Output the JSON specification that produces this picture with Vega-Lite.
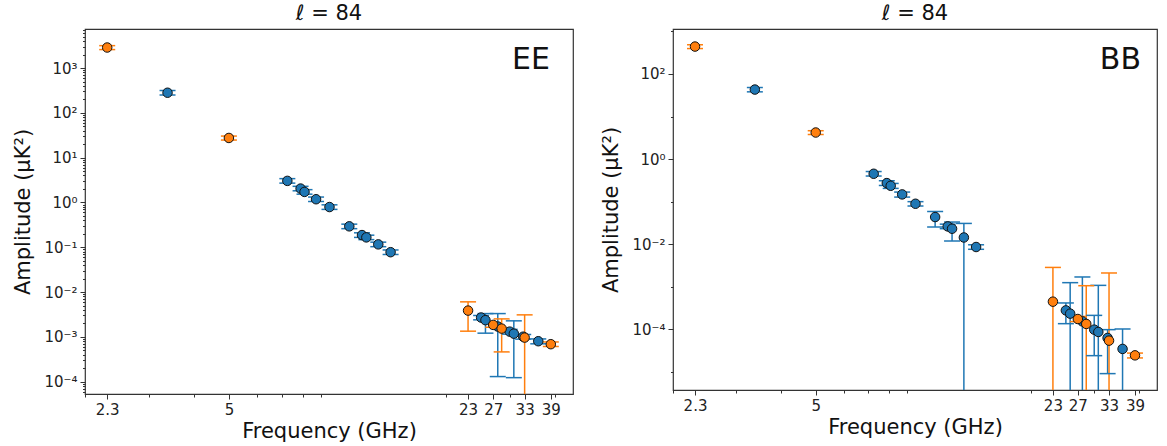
{
  "$schema": "https://vega.github.io/schema/vega-lite/v6.json",
  "background": "white",
  "padding": {"left": 12, "top": 2, "right": 7, "bottom": 4},
  "spacing": 100,
  "bounds": "flush",
  "datasets": {
    "pts": [
      {"panel": "EE", "series": "blue", "freq": 3.38, "amp": 281, "lo": 250, "hi": 315},
      {"panel": "EE", "series": "blue", "freq": 7.26, "amp": 3.03, "lo": 2.7, "hi": 3.4},
      {"panel": "EE", "series": "blue", "freq": 7.9, "amp": 2.04, "lo": 1.82, "hi": 2.29},
      {"panel": "EE", "series": "blue", "freq": 8.1, "amp": 1.72, "lo": 1.53, "hi": 1.93},
      {"panel": "EE", "series": "blue", "freq": 8.72, "amp": 1.18, "lo": 1.05, "hi": 1.32},
      {"panel": "EE", "series": "blue", "freq": 9.5, "amp": 0.79, "lo": 0.7, "hi": 0.885},
      {"panel": "EE", "series": "blue", "freq": 10.78, "amp": 0.293, "lo": 0.26, "hi": 0.328},
      {"panel": "EE", "series": "blue", "freq": 11.69, "amp": 0.187, "lo": 0.166, "hi": 0.21},
      {"panel": "EE", "series": "blue", "freq": 12.02, "amp": 0.166, "lo": 0.148, "hi": 0.186},
      {"panel": "EE", "series": "blue", "freq": 12.97, "amp": 0.116, "lo": 0.103, "hi": 0.13},
      {"panel": "EE", "series": "blue", "freq": 14.03, "amp": 0.0776, "lo": 0.069, "hi": 0.087},
      {"panel": "EE", "series": "blue", "freq": 25.0, "amp": 0.0027, "lo": 0.0024, "hi": 0.003},
      {"panel": "EE", "series": "blue", "freq": 25.7, "amp": 0.00236, "lo": 0.00121, "hi": 0.00331},
      {"panel": "EE", "series": "blue", "freq": 27.8, "amp": 0.0017, "lo": 0.00013, "hi": 0.00331},
      {"panel": "EE", "series": "blue", "freq": 30.0, "amp": 0.00131, "lo": 0.00115, "hi": 0.00147},
      {"panel": "EE", "series": "blue", "freq": 30.8, "amp": 0.00118, "lo": 0.000123, "hi": 0.00228},
      {"panel": "EE", "series": "blue", "freq": 32.7, "amp": 0.00101, "lo": 0.00089, "hi": 0.00113},
      {"panel": "EE", "series": "blue", "freq": 36.0, "amp": 0.0008, "lo": 0.0007, "hi": 0.0009},
      {"panel": "EE", "series": "orange", "freq": 2.3, "amp": 2870, "lo": 2580, "hi": 3160},
      {"panel": "EE", "series": "orange", "freq": 5.0, "amp": 27.5, "lo": 24.7, "hi": 30.3},
      {"panel": "EE", "series": "orange", "freq": 23.0, "amp": 0.00386, "lo": 0.00134, "hi": 0.00605},
      {"panel": "EE", "series": "orange", "freq": 27.0, "amp": 0.00185, "lo": 0.00164, "hi": 0.00207},
      {"panel": "EE", "series": "orange", "freq": 28.5, "amp": 0.00153, "lo": 0.000462, "hi": 0.00252},
      {"panel": "EE", "series": "orange", "freq": 33.0, "amp": 0.000964, "lo": 1e-9, "hi": 0.0031},
      {"panel": "EE", "series": "orange", "freq": 39.0, "amp": 0.000686, "lo": 0.00061, "hi": 0.00077},
      {"panel": "BB", "series": "blue", "freq": 3.38, "amp": 43, "lo": 38, "hi": 48},
      {"panel": "BB", "series": "blue", "freq": 7.26, "amp": 0.452, "lo": 0.4, "hi": 0.51},
      {"panel": "BB", "series": "blue", "freq": 7.9, "amp": 0.273, "lo": 0.24, "hi": 0.31},
      {"panel": "BB", "series": "blue", "freq": 8.1, "amp": 0.236, "lo": 0.205, "hi": 0.268},
      {"panel": "BB", "series": "blue", "freq": 8.72, "amp": 0.148, "lo": 0.128, "hi": 0.168},
      {"panel": "BB", "series": "blue", "freq": 9.5, "amp": 0.0893, "lo": 0.079, "hi": 0.1},
      {"panel": "BB", "series": "blue", "freq": 10.78, "amp": 0.0435, "lo": 0.0253, "hi": 0.0589},
      {"panel": "BB", "series": "blue", "freq": 11.69, "amp": 0.0262, "lo": 0.0232, "hi": 0.0296},
      {"panel": "BB", "series": "blue", "freq": 12.02, "amp": 0.0231, "lo": 0.0119, "hi": 0.0332},
      {"panel": "BB", "series": "blue", "freq": 12.97, "amp": 0.0144, "lo": 1e-9, "hi": 0.0308},
      {"panel": "BB", "series": "blue", "freq": 14.03, "amp": 0.0086, "lo": 0.0076, "hi": 0.0097},
      {"panel": "BB", "series": "blue", "freq": 25.0, "amp": 0.000279, "lo": 0.000136, "hi": 0.000417},
      {"panel": "BB", "series": "blue", "freq": 25.7, "amp": 0.000234, "lo": 1e-9, "hi": 0.00125},
      {"panel": "BB", "series": "blue", "freq": 27.8, "amp": 0.000154, "lo": 1e-9, "hi": 0.0017},
      {"panel": "BB", "series": "blue", "freq": 30.0, "amp": 0.0000984, "lo": 0.0000241, "hi": 0.000213},
      {"panel": "BB", "series": "blue", "freq": 30.8, "amp": 0.0000869, "lo": 1e-9, "hi": 0.00108},
      {"panel": "BB", "series": "blue", "freq": 32.7, "amp": 0.0000628, "lo": 0.00000912, "hi": 0.0000984},
      {"panel": "BB", "series": "blue", "freq": 36.0, "amp": 0.0000347, "lo": 1e-9, "hi": 0.000102},
      {"panel": "BB", "series": "orange", "freq": 2.3, "amp": 440, "lo": 395, "hi": 485},
      {"panel": "BB", "series": "orange", "freq": 5.0, "amp": 4.21, "lo": 3.78, "hi": 4.64},
      {"panel": "BB", "series": "orange", "freq": 23.0, "amp": 0.000447, "lo": 1e-9, "hi": 0.00285},
      {"panel": "BB", "series": "orange", "freq": 27.0, "amp": 0.000175, "lo": 0.000152, "hi": 0.000201},
      {"panel": "BB", "series": "orange", "freq": 28.5, "amp": 0.000134, "lo": 1e-9, "hi": 0.00106},
      {"panel": "BB", "series": "orange", "freq": 33.0, "amp": 0.0000543, "lo": 1e-9, "hi": 0.00211},
      {"panel": "BB", "series": "orange", "freq": 39.0, "amp": 0.0000245, "lo": 0.0000213, "hi": 0.0000277}
    ]
  },
  "data": {"name": "pts"},
  "hconcat": [
    {
      "width": 488,
      "height": 365,
      "title": {"text": "ℓ = 84"},
      "transform": [{"filter": "datum.panel === 'EE'"}],
      "resolve": {"axis": {"x": "independent", "y": "independent"}},
      "layer": [
        {
          "mark": {"type": "rule", "strokeWidth": 1.5, "clip": true},
          "encoding": {
            "x": {"field": "freq", "type": "quantitative", "scale": {"type": "log", "domain": [1.9962, 44.93], "nice": false},
                  "axis": {"orient": "bottom", "values": [2, 3, 4, 6, 7, 8, 9, 20, 30, 40], "labels": false, "tickSize": 3, "title": null}},
            "y": {"field": "lo", "type": "quantitative", "scale": {"type": "log", "domain": [0.0000531, 7431], "nice": false},
                  "axis": {"orient": "left", "values": [0.00006, 0.00007, 0.00008, 0.00009, 0.0002, 0.0003, 0.0004, 0.0005, 0.0006, 0.0007, 0.0008, 0.0009, 0.002, 0.003, 0.004, 0.005, 0.006, 0.007, 0.008, 0.009, 0.02, 0.03, 0.04, 0.05, 0.06, 0.07, 0.08, 0.09, 0.2, 0.3, 0.4, 0.5, 0.6, 0.7, 0.8, 0.9, 2, 3, 4, 5, 6, 7, 8, 9, 20, 30, 40, 50, 60, 70, 80, 90, 200, 300, 400, 500, 600, 700, 800, 900, 2000, 3000, 4000, 5000, 6000, 7000], "labels": false, "tickSize": 2.5, "title": null}},
            "y2": {"field": "hi"},
            "color": {"field": "series", "type": "nominal", "scale": {"domain": ["blue", "orange"], "range": ["#1f77b4", "#ff7f0e"]}, "legend": null}
          }
        },
        {
          "mark": {"type": "tick", "orient": "horizontal", "size": 16, "thickness": 1.5, "clip": true, "opacity": 1},
          "encoding": {
            "x": {"field": "freq", "type": "quantitative", "axis": null},
            "y": {"field": "hi", "type": "quantitative", "axis": null},
            "color": {"field": "series", "type": "nominal", "legend": null}
          }
        },
        {
          "mark": {"type": "tick", "orient": "horizontal", "size": 16, "thickness": 1.5, "clip": true, "opacity": 1},
          "encoding": {
            "x": {"field": "freq", "type": "quantitative", "axis": null},
            "y": {"field": "lo", "type": "quantitative", "axis": null},
            "color": {"field": "series", "type": "nominal", "legend": null}
          }
        },
        {
          "mark": {"type": "point", "shape": "circle", "filled": true, "size": 90, "stroke": "#111", "strokeWidth": 1, "opacity": 1},
          "encoding": {
            "x": {"field": "freq", "type": "quantitative",
                  "axis": {"orient": "bottom", "values": [2.3, 5, 23, 27, 33, 39], "labelExpr": "format(datum.value, '~g')", "title": "Frequency (GHz)"}},
            "y": {"field": "amp", "type": "quantitative",
                  "axis": {"orient": "left", "values": [0.0001, 0.001, 0.01, 0.1, 1, 10, 100, 1000], "labelExpr": "'10' + (round(log(datum.value)/LN10) < 0 ? '⁻' : '') + ['⁰','¹','²','³','⁴','⁵','⁶','⁷','⁸','⁹'][abs(round(log(datum.value)/LN10))]", "title": "Amplitude (μK²)"}},
            "color": {"field": "series", "type": "nominal", "legend": null}
          }
        },
        {
          "data": {"values": [{"label": "EE"}]},
          "mark": {"type": "text", "align": "right", "baseline": "top", "fontSize": 30, "dx": -23, "dy": 16, "color": "#111"},
          "encoding": {
            "x": {"value": "width"},
            "y": {"value": 0},
            "text": {"field": "label"}
          }
        }
      ]
    },
    {
      "width": 484,
      "height": 361,
      "title": {"text": "ℓ = 84"},
      "transform": [{"filter": "datum.panel === 'BB'"}],
      "resolve": {"axis": {"x": "independent", "y": "independent"}},
      "layer": [
        {
          "mark": {"type": "rule", "strokeWidth": 1.5, "clip": true},
          "encoding": {
            "x": {"field": "freq", "type": "quantitative", "scale": {"type": "log", "domain": [1.9962, 44.93], "nice": false},
                  "axis": {"orient": "bottom", "values": [2, 3, 4, 6, 7, 8, 9, 20, 30, 40], "labels": false, "tickSize": 3, "title": null}},
            "y": {"field": "lo", "type": "quantitative", "scale": {"type": "log", "domain": [0.00000376, 1138], "nice": false},
                  "axis": {"orient": "left", "values": [0.00001, 0.001, 0.1, 10, 1000], "labels": false, "tickSize": 2.5, "title": null}},
            "y2": {"field": "hi"},
            "color": {"field": "series", "type": "nominal", "scale": {"domain": ["blue", "orange"], "range": ["#1f77b4", "#ff7f0e"]}, "legend": null}
          }
        },
        {
          "mark": {"type": "tick", "orient": "horizontal", "size": 16, "thickness": 1.5, "clip": true, "opacity": 1},
          "encoding": {
            "x": {"field": "freq", "type": "quantitative", "axis": null},
            "y": {"field": "hi", "type": "quantitative", "axis": null},
            "color": {"field": "series", "type": "nominal", "legend": null}
          }
        },
        {
          "mark": {"type": "tick", "orient": "horizontal", "size": 16, "thickness": 1.5, "clip": true, "opacity": 1},
          "encoding": {
            "x": {"field": "freq", "type": "quantitative", "axis": null},
            "y": {"field": "lo", "type": "quantitative", "axis": null},
            "color": {"field": "series", "type": "nominal", "legend": null}
          }
        },
        {
          "mark": {"type": "point", "shape": "circle", "filled": true, "size": 90, "stroke": "#111", "strokeWidth": 1, "opacity": 1},
          "encoding": {
            "x": {"field": "freq", "type": "quantitative",
                  "axis": {"orient": "bottom", "values": [2.3, 5, 23, 27, 33, 39], "labelExpr": "format(datum.value, '~g')", "title": "Frequency (GHz)"}},
            "y": {"field": "amp", "type": "quantitative",
                  "axis": {"orient": "left", "values": [0.0001, 0.01, 1, 100], "labelExpr": "'10' + (round(log(datum.value)/LN10) < 0 ? '⁻' : '') + ['⁰','¹','²','³','⁴','⁵','⁶','⁷','⁸','⁹'][abs(round(log(datum.value)/LN10))]", "title": "Amplitude (μK²)"}},
            "color": {"field": "series", "type": "nominal", "legend": null}
          }
        },
        {
          "data": {"values": [{"label": "BB"}]},
          "mark": {"type": "text", "align": "right", "baseline": "top", "fontSize": 30, "dx": -16, "dy": 16, "color": "#111"},
          "encoding": {
            "x": {"value": "width"},
            "y": {"value": 0},
            "text": {"field": "label"}
          }
        }
      ]
    }
  ],
  "config": {
    "font": "DejaVu Sans",
    "view": {"stroke": "#333", "strokeWidth": 1.2},
    "title": {"fontSize": 21, "fontWeight": "normal", "color": "#111", "font": "DejaVu Sans", "offset": 5},
    "axis": {
      "domain": false,
      "grid": false,
      "ticks": true,
      "tickColor": "#333",
      "tickWidth": 1,
      "tickSize": 5,
      "labelColor": "#222",
      "labelFont": "DejaVu Sans",
      "labelFontSize": 15,
      "labelPadding": 3,
      "labelOverlap": false,
      "labelFlush": false,
      "titleFont": "DejaVu Sans",
      "titleFontSize": 21,
      "titleFontWeight": "normal",
      "titleColor": "#111"
    },
    "axisY": {"titlePadding": 10},
    "axisX": {"titlePadding": 3}
  }
}
